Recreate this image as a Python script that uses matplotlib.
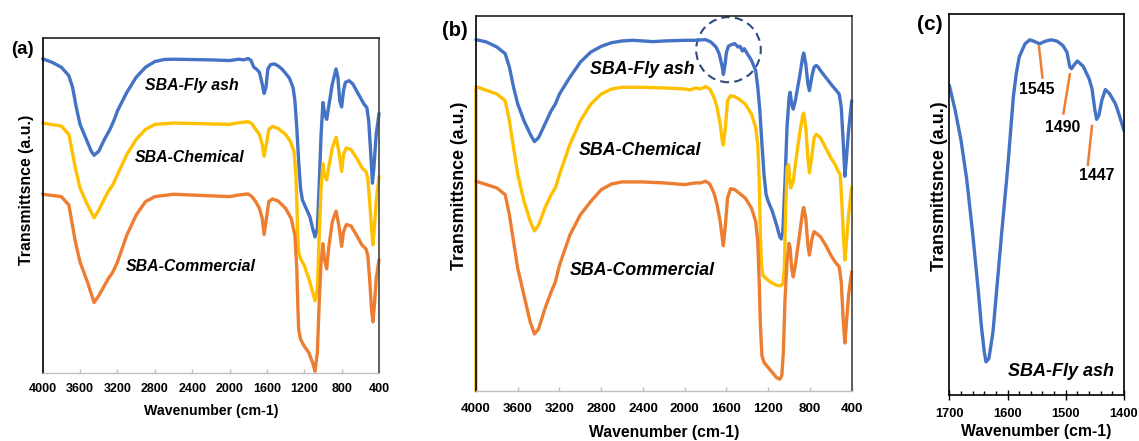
import matplotlib
matplotlib.use("Agg")
import matplotlib.pyplot as plt
from matplotlib.patches import Ellipse
from matplotlib.ticker import MultipleLocator

plt.rcParams['font.family'] = ['Liberation Sans', 'DejaVu Sans']

BLUE = '#4472C4'
GOLD = '#FFC000'
ORANGE = '#ED7D31'

# ---------------- Panel (a) data ----------------
a_blue_wn = [4000, 3900, 3800, 3720, 3680, 3640, 3600, 3540, 3480, 3450, 3400, 3340, 3280, 3240, 3200,
             3100, 3000, 2900, 2800, 2700, 2600, 2400, 2200, 2000, 1950, 1900, 1850, 1800, 1770, 1740,
             1710, 1680, 1650, 1630, 1610, 1590, 1560, 1520, 1480, 1440, 1400, 1360, 1320, 1300, 1280,
             1260, 1240, 1220, 1180, 1140, 1110, 1085, 1060, 1040, 1020, 1000, 980, 960, 940, 900,
             860, 840, 820, 800, 780, 760, 720, 680, 620, 560, 530, 510, 490, 470, 455, 430, 400]
a_blue_t = [935, 925, 910, 885, 850, 790, 740, 700, 660, 648, 660, 695, 725, 750, 780,
            835, 880, 910, 927, 933, 934, 933, 932, 930, 932, 934, 932, 936, 930, 910,
            904, 895, 860, 832, 850, 905, 918, 920, 914, 905, 892, 878, 850, 810, 730,
            630, 550, 515, 490, 465, 430, 405, 430, 560, 710, 805, 770, 755, 790, 860,
            905, 880, 810, 792, 840, 865, 870, 860, 830, 800, 790, 750, 660, 565, 610, 710, 772]

a_gold_wn = [4000, 3800, 3720, 3650, 3600, 3520, 3450, 3400, 3300, 3250, 3200, 3100, 3000, 2900, 2800,
             2600, 2000, 1900, 1800, 1760, 1720, 1680, 1650, 1630, 1600, 1580, 1540, 1480, 1400, 1350,
             1310, 1290, 1280, 1270, 1260, 1240, 1200, 1150, 1110, 1085, 1060, 1040, 1020, 1000, 985,
             960, 940, 900, 860, 830, 800, 780, 750, 700, 640, 580, 540, 520, 500, 480, 465, 450, 430, 400]
a_gold_t = [744, 735, 710, 610, 550, 500, 462, 485, 540, 560, 590, 650, 695, 725, 740,
            744, 740, 745, 748, 742, 725, 710, 680, 645, 690, 725, 734, 728, 710, 690,
            660, 590, 510, 410, 360, 340, 320, 280, 240, 215, 250, 410, 550, 623, 590,
            575, 610, 670, 702, 660, 600, 650, 670, 665, 640, 610, 600, 580, 510, 430, 382, 430, 510, 585]

a_orange_wn = [4000, 3800, 3720, 3650, 3600, 3520, 3450, 3400, 3300, 3250, 3200, 3100, 3000, 2900, 2800,
               2600, 2000, 1900, 1800, 1760, 1720, 1680, 1650, 1630, 1600, 1580, 1540, 1480, 1400, 1340,
               1300, 1280, 1270, 1260, 1240, 1200, 1150, 1110, 1085, 1060, 1040, 1020, 1000, 985, 960,
               940, 900, 860, 830, 800, 780, 750, 700, 640, 580, 540, 520, 500, 480, 465, 450, 430, 400]
a_orange_t = [532, 525, 500, 390, 330, 270, 210, 230, 280, 300, 330, 410, 470, 510, 525,
              532, 525, 530, 533, 525, 510, 490, 460, 412, 470, 510, 518, 512, 490, 460,
              410, 310, 210, 130, 100, 80, 60, 30, 5, 60, 210, 330, 385, 340, 310,
              370, 450, 482, 440, 377, 420, 442, 438, 410, 380, 370, 350, 280, 190, 152, 200, 280, 337]

# ---------------- Panel (b) data ----------------
b_blue_wn = [4000, 3900, 3800, 3720, 3680, 3640, 3600, 3540, 3480, 3440, 3400, 3340, 3280, 3240, 3200,
             3100, 3000, 2900, 2800, 2700, 2600, 2500, 2400, 2300, 2200, 2000, 1900, 1800, 1750, 1700,
             1670, 1640, 1630, 1615, 1600, 1580, 1545, 1520, 1490, 1470, 1447, 1430, 1400, 1360, 1320,
             1300, 1280, 1260, 1240, 1220, 1200, 1160, 1120, 1090, 1075, 1060, 1040, 1020, 1000, 990,
             975, 960, 940, 900, 870, 860, 840, 820, 805, 780, 760, 740, 720, 700, 650, 600, 560,
             520, 500, 480, 465, 450, 430, 400]
b_blue_t = [1047, 1040, 1025, 1005, 965, 905, 855, 805, 765, 743, 755, 795, 835, 855, 885,
            935, 980, 1010, 1027, 1038, 1043, 1045, 1043, 1041, 1043, 1045, 1045, 1047, 1040, 1025,
            1005, 965, 943, 970, 1010, 1028, 1033, 1035, 1025, 1027, 1013, 1020, 1005, 985, 955,
            905, 835, 735, 645, 585, 565, 535, 495, 460, 453, 475, 615, 785, 875, 890,
            855, 840, 865, 935, 995, 1007, 975, 915, 895, 940, 965, 970, 965, 955, 935, 915, 900,
            885, 845, 735, 640, 695, 775, 865]

b_gold_wn = [4000, 4000, 3800, 3720, 3680, 3640, 3600, 3540, 3480, 3440, 3400, 3340, 3280, 3240, 3200,
             3100, 3000, 2900, 2800, 2700, 2600, 2400, 2200, 2000, 1950, 1900, 1850, 1800, 1760, 1720,
             1690, 1660, 1640, 1630, 1610, 1590, 1560, 1520, 1480, 1420, 1360, 1320, 1300, 1285, 1275,
             1265, 1250, 1220, 1180, 1120, 1080, 1060, 1045, 1035, 1020, 1005, 995, 985, 960, 940,
             900, 870, 860, 840, 820, 805, 780, 760, 740, 700, 650, 600, 560, 530, 510, 495, 480,
             465, 450, 430, 400]
b_gold_t = [0, 907, 885, 865, 805, 725, 645, 565, 505, 477, 495, 545, 585, 605, 645,
            735, 805, 855, 885, 900, 905, 905, 903, 900, 897, 903, 900, 907, 900, 875,
            845, 795, 745, 733, 785, 865, 880, 877, 870, 855, 825, 785, 735, 615, 465,
            375, 345, 335, 325, 315, 313, 320, 365, 515, 665, 675, 635, 605, 625, 675,
            765, 820, 828, 785, 695, 650, 705, 755, 765, 755, 725, 695, 675, 655, 645, 565, 465,
            390, 445, 525, 607]

b_orange_wn = [4000, 3800, 3720, 3680, 3640, 3600, 3540, 3480, 3440, 3400, 3340, 3280, 3240, 3200,
               3100, 3000, 2900, 2800, 2700, 2600, 2400, 2200, 2000, 1900, 1850, 1800, 1760, 1720,
               1690, 1660, 1640, 1630, 1610, 1590, 1560, 1520, 1480, 1420, 1360, 1320, 1300, 1285,
               1275, 1260, 1240, 1200, 1160, 1120, 1090, 1070, 1055, 1040, 1020, 1000, 990, 975, 960,
               940, 900, 870, 860, 840, 820, 805, 780, 760, 740, 700, 650, 600, 560, 520, 500, 480,
               465, 450, 430, 400]
b_orange_t = [625, 605, 585, 525, 445, 365, 285, 205, 170, 185, 245, 295, 325, 375,
              465, 525, 565, 600, 617, 623, 623, 620, 615, 620, 620, 625, 617, 590,
              555, 505, 455, 433, 495, 575, 603, 600, 590, 575, 545, 505, 445, 315,
              195, 105, 85, 70, 55, 40, 35, 45, 115, 265, 385, 440, 425, 365, 340,
              375, 465, 535, 547, 515, 435, 405, 455, 475, 470, 460, 435, 405, 385, 370, 325, 205,
              143, 205, 285, 355]

# ---------------- Panel (c) data ----------------
c_blue_wn = [1700, 1690, 1680, 1670, 1660, 1650, 1645, 1640, 1637, 1632, 1625, 1620, 1610, 1600,
             1590, 1585, 1580, 1570, 1562, 1555, 1545, 1535, 1525, 1515, 1505, 1498, 1493, 1490,
             1485, 1480, 1470, 1460, 1455, 1450, 1447, 1443, 1438, 1432, 1425, 1415, 1410, 1400]
c_blue_t = [935, 860, 770, 650, 490, 310, 210, 130, 100, 110, 190, 290, 490, 680,
            900, 970, 1020, 1060, 1072, 1068, 1060, 1068, 1072, 1068, 1055, 1035, 990, 985,
            998, 1008, 992, 955, 925, 860, 832, 845, 890, 922, 910, 880, 855, 798]

c_peaks = ['1545', '1490', '1447']
c_peak_line_x = [(1546, 1540), (1493, 1504), (1455, 1462)]
c_peak_line_t = [(1052, 958), (968, 850), (812, 695)]
c_peak_label_x = [1550, 1505, 1446]
c_peak_label_t = [922, 807, 663]

series_labels = ['SBA-Fly ash', 'SBA-Chemical', 'SBA-Commercial']
a_label_x = [2407, 2432, 2414]
a_label_t = [855, 642, 318]
b_label_x = [2404, 2433, 2411]
b_label_t = [958, 718, 360]

xticks_ab = [4000, 3600, 3200, 2800, 2400, 2000, 1600, 1200, 800, 400]
xticks_c = [1700, 1600, 1500, 1400]

W, H = 1139, 441
fig = plt.figure(figsize=(W / 100, H / 100), dpi=100)


def add_ax(l, r, t, b):
    return fig.add_axes([l / W, (H - b) / H, (r - l) / W, (b - t) / H])


LW = 2.4


def style_ab(ax, fs_tick, fs_lab, tpad, lpad):
    ax.set_xlim(4000, 400)
    ax.set_xticks(xticks_ab)
    ax.set_xticklabels([str(v) for v in xticks_ab], fontsize=fs_tick, fontweight='bold')
    ax.tick_params(axis='x', direction='in', length=3, color='#BFBFBF', pad=tpad, width=1)
    ax.set_yticks([])
    ax.spines['bottom'].set_color('#BFBFBF')
    ax.spines['bottom'].set_linewidth(1.0)
    ax.spines['left'].set_color('black')
    ax.spines['left'].set_linewidth(1.2)
    ax.spines['top'].set_color('#222222')
    ax.spines['top'].set_linewidth(1.2)
    ax.spines['right'].set_color('#444444')
    ax.spines['right'].set_linewidth(1.2)
    ax.set_xlabel('Wavenumber (cm-1)', fontsize=fs_lab, fontweight='bold', labelpad=lpad)


# ---- (a)
ax = add_ax(42.7, 379, 37.7, 373)
ax.plot(a_blue_wn, a_blue_t, color=BLUE, lw=LW, solid_capstyle='round', clip_on=False)
ax.plot(a_gold_wn, a_gold_t, color=GOLD, lw=LW, solid_capstyle='round', clip_on=False)
ax.plot(a_orange_wn, a_orange_t, color=ORANGE, lw=LW, solid_capstyle='round', clip_on=False)
ax.set_ylim(0, 998)
style_ab(ax, 9, 10.2, 7.5, 6)
ax.set_ylabel('Transmittsnce (a.u.)', fontsize=11.4, fontweight='bold', labelpad=6)
ax.yaxis.label.set_y(0.546)
for s, x, y in zip(series_labels, a_label_x, a_label_t):
    ax.text(x, y, s, fontsize=11.4, fontweight='bold', fontstyle='italic', ha='center', va='center')
fig.text(22 / W, 1 - 49 / H, '(a)', fontsize=13.5, fontweight='bold', ha='center', va='center')

# ---- (b)
ax = add_ax(476, 851.7, 15.8, 391)
ax.plot(b_blue_wn, b_blue_t, color=BLUE, lw=LW, solid_capstyle='round', clip_on=False)
ax.plot(b_gold_wn, b_gold_t, color=GOLD, lw=LW, solid_capstyle='round', clip_on=False)
ax.plot(b_orange_wn, b_orange_t, color=ORANGE, lw=LW, solid_capstyle='round', clip_on=False)
ax.set_ylim(0, 1118)
style_ab(ax, 9.7, 11.3, 9, 7)
ax.set_ylabel('Transmittsnce (a.u.)', fontsize=12.8, fontweight='bold', labelpad=6)
ax.yaxis.label.set_y(0.547)
for s, x, y in zip(series_labels, b_label_x, b_label_t):
    ax.text(x, y, s, fontsize=12.8, fontweight='bold', fontstyle='italic', ha='center', va='center')
ax.add_patch(Ellipse((1581, 1017), width=619, height=194, fill=False,
                     edgecolor='#2F4B7C', lw=1.5, ls=(0, (4, 2.5))))
fig.text(455 / W, 1 - 31 / H, '(b)', fontsize=14.5, fontweight='bold', ha='center', va='center')

# ---- (c)
ax = add_ax(949.3, 1124, 14, 395)
ax.plot(c_blue_wn, c_blue_t, color=BLUE, lw=LW, solid_capstyle='round')
ax.set_xlim(1700, 1400)
ax.set_ylim(0, 1150)
ax.set_xticks(xticks_c)
ax.set_xticklabels([str(v) for v in xticks_c], fontsize=9.3, fontweight='bold')
ax.xaxis.set_minor_locator(MultipleLocator(20))
ax.tick_params(axis='x', which='major', direction='inout', length=7, width=1, color='black', pad=6)
ax.tick_params(axis='x', which='minor', direction='in', length=3, width=1, color='black')
ax.set_yticks([])
for sp in ax.spines.values():
    sp.set_color('black')
    sp.set_linewidth(1.2)
ax.set_xlabel('Wavenumber (cm-1)', fontsize=11.3, fontweight='bold', labelpad=2.5)
ax.set_ylabel('Transmittsnce (a.u.)', fontsize=12.9, fontweight='bold', labelpad=1)
ax.yaxis.label.set_y(0.547)
for lab, lx, lt, tx, tt in zip(c_peaks, c_peak_line_x, c_peak_line_t, c_peak_label_x, c_peak_label_t):
    ax.plot(lx, lt, color=ORANGE, lw=1.8)
    ax.text(tx, tt, lab, fontsize=11.4, fontweight='bold', ha='center', va='center')
ax.text(1509, 70, 'SBA-Fly ash', fontsize=13, fontweight='bold', fontstyle='italic', ha='center', va='center')
fig.text(930 / W, 1 - 24 / H, '(c)', fontsize=15, fontweight='bold', ha='center', va='center')

fig.savefig('out.png', dpi=100)
